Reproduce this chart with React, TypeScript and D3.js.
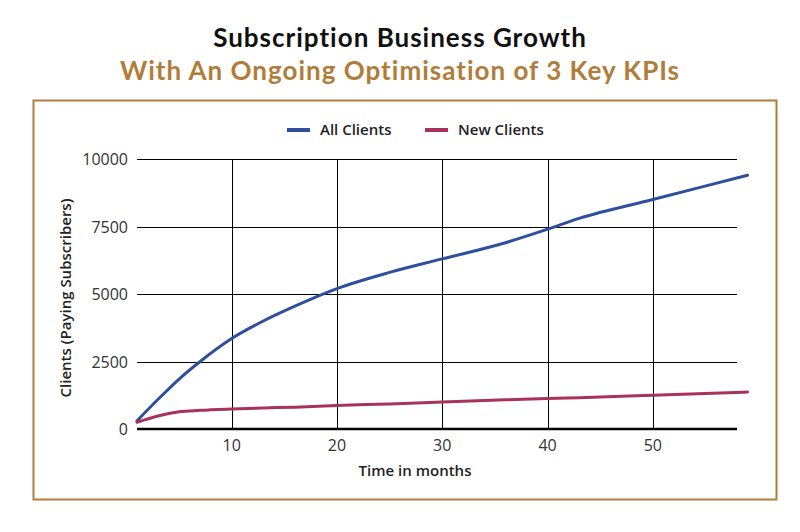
import React from "react";
import * as d3 from "d3";

const months = [1, 3, 5, 7, 10, 13, 16, 20, 25, 30, 36, 40, 43, 50, 59];
const allClients = [300, 1100, 1850, 2500, 3350, 4000, 4550, 5200, 5800, 6300, 6900, 7400, 7800, 8500, 9400];
const newClients = [250, 480, 640, 690, 740, 780, 810, 870, 930, 1000, 1080, 1130, 1160, 1250, 1370];
const xTicks = [10, 20, 30, 40, 50];
const yTicks = [0, 2500, 5000, 7500, 10000];
const seriesNames = ["All Clients", "New Clients"];
const colors = ["#2f4f9e", "#a8325a"];

const W = 800;
const H = 532;
const margin = { left: 137, right: 63, top: 159, bottom: 103 };

export default function App() {
  const x = d3.scaleLinear().domain([1, 58]).range([margin.left, W - margin.right]);
  const y = d3.scaleLinear().domain([0, 10000]).range([H - margin.bottom, margin.top]);

  const mkLine = d3
    .line<[number, number]>()
    .x((d) => x(d[0]))
    .y((d) => y(d[1]))
    .curve(d3.curveMonotoneX);

  const series = [allClients, newClients].map((vals) => months.map((m, i) => [m, vals[i]] as [number, number]));
  const font = "'Open Sans', sans-serif";
  const brown = "#b07d3a";

  return (
    <svg width={W} height={H} style={{ position: "absolute", left: 0, top: 0, background: "#fff" }}>
      <text x={400} y={47} textAnchor="middle" fontFamily="Lato, sans-serif" fontWeight={700} fontSize={26} letterSpacing={1} fill="#111">
        Subscription Business Growth
      </text>
      <text x={400} y={80} textAnchor="middle" fontFamily="Lato, sans-serif" fontWeight={700} fontSize={26} letterSpacing={1} fill={brown}>
        With An Ongoing Optimisation of 3 Key KPIs
      </text>
      <rect x={33.5} y={100.5} width={743} height={399} fill="none" stroke={brown} strokeWidth={2} />

      {/* legend */}
      {seriesNames.map((name, i) => {
        const lx = i === 0 ? 287 : 425;
        return (
          <g key={name}>
            <line x1={lx} x2={lx + 23} y1={130} y2={130} stroke={colors[i]} strokeWidth={4} />
            <text x={lx + 33} y={135} fontFamily={font} fontWeight={600} fontSize={15} fill="#222">
              {name}
            </text>
          </g>
        );
      })}

      {/* grid */}
      {yTicks.filter((t) => t > 0).map((t) => (
        <line key={t} x1={x(1)} x2={x(58)} y1={Math.round(y(t)) + 0.5} y2={Math.round(y(t)) + 0.5} stroke="#000" strokeWidth={1} />
      ))}
      {xTicks.map((t) => (
        <line key={t} x1={Math.round(x(t)) + 0.5} x2={Math.round(x(t)) + 0.5} y1={y(10000)} y2={y(0)} stroke="#000" strokeWidth={1} />
      ))}
      <line x1={x(1)} x2={x(58)} y1={y(0)} y2={y(0)} stroke="#000" strokeWidth={2.5} />

      {/* tick labels */}
      {yTicks.map((t) => (
        <text key={t} x={x(1) - 9} y={y(t) + 6} textAnchor="end" fontFamily={font} fontSize={16} fill="#333">
          {t}
        </text>
      ))}
      {xTicks.map((t) => (
        <text key={t} x={x(t)} y={y(0) + 22} textAnchor="middle" fontFamily={font} fontSize={16} fill="#333">
          {t}
        </text>
      ))}

      <text x={415} y={476} textAnchor="middle" fontFamily={font} fontWeight={600} fontSize={15} fill="#222">
        Time in months
      </text>
      <text
        transform={`translate(71, ${(y(0) + y(10000)) / 2 + 4}) rotate(-90)`}
        textAnchor="middle"
        fontFamily={font}
        fontWeight={600}
        fontSize={15}
        fill="#222"
      >
        Clients (Paying Subscribers)
      </text>

      {series.map((s, i) => (
        <path key={i} d={mkLine(s) ?? ""} fill="none" stroke={colors[i]} strokeWidth={3} strokeLinecap="round" />
      ))}
    </svg>
  );
}
